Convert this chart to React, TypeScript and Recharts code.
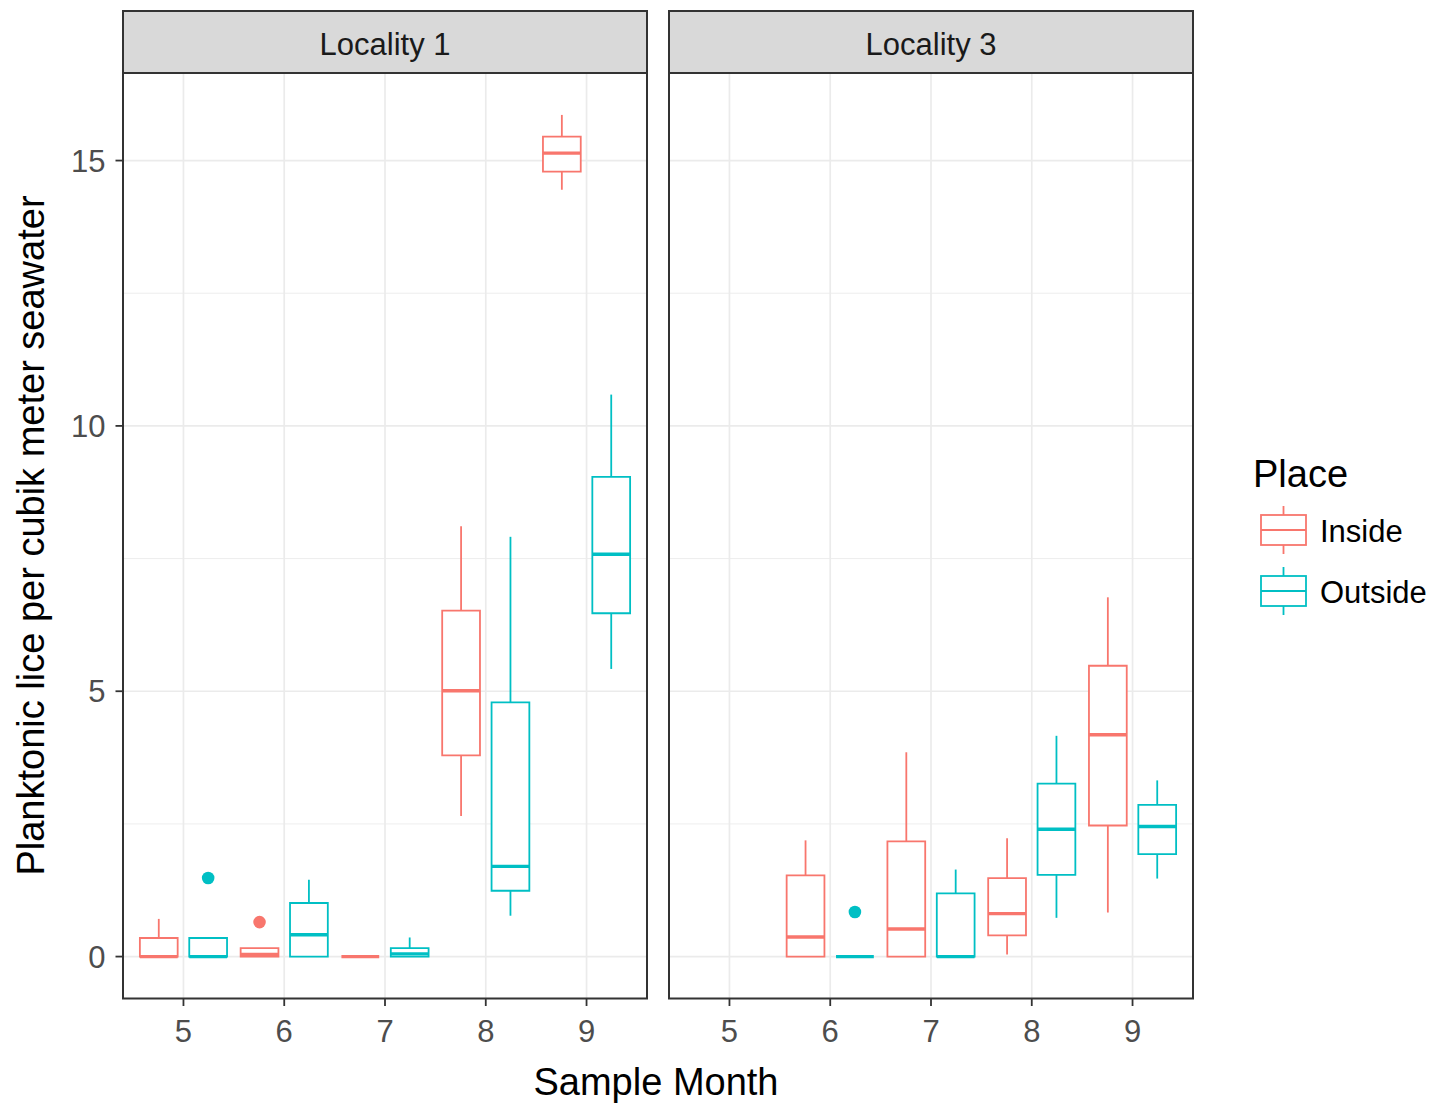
import React from 'react';
import {
  ComposedChart,
  XAxis,
  YAxis,
  Scatter,
  ReferenceArea,
  ReferenceLine,
} from 'recharts';

// ---------- data ----------
const months = ['5', '6', '7', '8', '9'];
const places = ['Inside', 'Outside'];
const localities = ['Locality 1', 'Locality 3'];

// [lower whisker, q1, median, q3, upper whisker]
type Stat = [number, number, number, number, number] | null;

const loc1Inside: Stat[] = [
  [0, 0, 0, 0.35, 0.71],
  [0, 0, 0.04, 0.16, 0.16],
  [0, 0, 0, 0, 0],
  [2.65, 3.79, 5.01, 6.52, 8.11],
  [14.45, 14.79, 15.14, 15.45, 15.86],
];
const loc1Outside: Stat[] = [
  [0, 0, 0, 0.35, 0.35],
  [0, 0, 0.41, 1.01, 1.45],
  [0, 0, 0.05, 0.16, 0.36],
  [0.77, 1.24, 1.7, 4.79, 7.91],
  [5.42, 6.47, 7.58, 9.04, 10.59],
];
const loc3Inside: Stat[] = [
  null,
  [0, 0, 0.37, 1.53, 2.19],
  [0, 0, 0.52, 2.17, 3.85],
  [0.04, 0.4, 0.81, 1.48, 2.23],
  [0.83, 2.47, 4.18, 5.48, 6.77],
];
const loc3Outside: Stat[] = [
  null,
  [0, 0, 0, 0, 0],
  [0, 0, 0, 1.19, 1.64],
  [0.73, 1.54, 2.4, 3.26, 4.16],
  [1.47, 1.93, 2.45, 2.86, 3.32],
];

const loc1InsideOutliers = [{ month: '6', value: 0.65 }];
const loc1OutsideOutliers = [{ month: '5', value: 1.48 }];
const loc3InsideOutliers: { month: string; value: number }[] = [];
const loc3OutsideOutliers = [{ month: '6', value: 0.84 }];

const yTicks = [0, 5, 10, 15];
const yMinor = [2.5, 7.5, 12.5];

// ---------- styling ----------
const COLORS = { Inside: '#F8766D', Outside: '#00BFC4' };
const FONT = '"Liberation Sans", Arial, Helvetica, sans-serif';
const SMALL = 31;
const LARGE = 38;
const Y_DOMAIN: [number, number] = [-0.79, 16.65];
const X_DOMAIN: [number, number] = [0.4, 5.6];
const DODGE = 0.245;
const BOX_W = 0.375;
const GRID = '#EBEBEB';
const DARK = '#333333';
const LW = 1.8;

const monthIndex = (m: string) => months.indexOf(m) + 1;

function buildBoxes(stats: Stat[], color: string, offset: number, key: string) {
  const areas: React.ReactNode[] = [];
  const lines: React.ReactNode[] = [];
  stats.forEach((s, i) => {
    if (!s) return;
    const [lo, q1, med, q3, hi] = s;
    const cx = i + 1 + offset;
    const x1 = cx - BOX_W / 2;
    const x2 = cx + BOX_W / 2;
    if (hi > q3) {
      lines.push(
        <ReferenceLine
          key={`${key}-hi-${i}`}
          segment={[{ x: cx, y: q3 }, { x: cx, y: hi }]}
          stroke={color}
          strokeWidth={LW}
          ifOverflow="visible"
          zIndex={20}
        />
      );
    }
    if (lo < q1) {
      lines.push(
        <ReferenceLine
          key={`${key}-lo-${i}`}
          segment={[{ x: cx, y: lo }, { x: cx, y: q1 }]}
          stroke={color}
          strokeWidth={LW}
          ifOverflow="visible"
          zIndex={20}
        />
      );
    }
    if (q3 > q1) {
      areas.push(
        <ReferenceArea
          key={`${key}-box-${i}`}
          x1={x1}
          x2={x2}
          y1={q1}
          y2={q3}
          fill="#ffffff"
          fillOpacity={1}
          stroke={color}
          strokeWidth={LW}
          ifOverflow="visible"
          zIndex={10}
        />
      );
    }
    lines.push(
      <ReferenceLine
        key={`${key}-med-${i}`}
        segment={[{ x: x1, y: med }, { x: x2, y: med }]}
        stroke={color}
        strokeWidth={3.4}
        ifOverflow="visible"
        zIndex={25}
      />
    );
  });
  return { areas, lines };
}

const dot = (color: string) => (p: any) =>
  <circle cx={p.cx} cy={p.cy} r={6.3} fill={color} />;

type PanelProps = {
  inside: Stat[];
  outside: Stat[];
  insideOut: { month: string; value: number }[];
  outsideOut: { month: string; value: number }[];
  showY: boolean;
  left: number;
  width: number;
  margin: { top: number; right: number; bottom: number; left: number };
  id: string;
};

function Panel({ inside, outside, insideOut, outsideOut, showY, left, width, margin, id }: PanelProps) {
  const a = buildBoxes(inside, COLORS.Inside, -DODGE, `${id}-in`);
  const b = buildBoxes(outside, COLORS.Outside, DODGE, `${id}-out`);
  const inPts = insideOut.map((o) => ({ x: monthIndex(o.month) - DODGE, y: o.value }));
  const outPts = outsideOut.map((o) => ({ x: monthIndex(o.month) + DODGE, y: o.value }));
  const tickStyle = { fill: '#4D4D4D', fontSize: SMALL, fontFamily: FONT };
  return (
    <div style={{ position: 'absolute', left, top: 0 }}>
      <ComposedChart width={width} height={1104} margin={margin}>
        <XAxis
          type="number"
          dataKey="x"
          domain={X_DOMAIN}
          ticks={[1, 2, 3, 4, 5]}
          tickFormatter={(v: number) => months[v - 1]}
          allowDataOverflow
          axisLine={false}
          tickLine={{ stroke: DARK, strokeWidth: LW }}
          tickSize={7.5}
          tickMargin={14}
          tick={tickStyle}
          height={60}
          interval={0}
        />
        <YAxis
          type="number"
          dataKey="y"
          domain={Y_DOMAIN}
          ticks={yTicks}
          allowDataOverflow
          hide={!showY}
          axisLine={false}
          tickLine={{ stroke: DARK, strokeWidth: LW }}
          tickSize={7.5}
          tickMargin={10}
          tick={tickStyle}
          width={60}
          interval={0}
        />
        {yMinor.map((v) => (
          <ReferenceLine key={`min-${v}`} y={v} stroke={GRID} strokeWidth={0.9} ifOverflow="visible" zIndex={1} />
        ))}
        {yTicks.map((v) => (
          <ReferenceLine key={`maj-${v}`} y={v} stroke={GRID} strokeWidth={1.7} ifOverflow="visible" zIndex={2} />
        ))}
        {months.map((m, i) => (
          <ReferenceLine key={`vx-${m}`} x={i + 1} stroke={GRID} strokeWidth={1.7} ifOverflow="visible" zIndex={2} />
        ))}
        {a.areas}
        {b.areas}
        {a.lines}
        {b.lines}
        <Scatter
          name="Inside outliers"
          data={inPts}
          dataKey="y"
          shape={dot(COLORS.Inside)}
          isAnimationActive={false}
          zIndex={30}
        />
        <Scatter
          name="Outside outliers"
          data={outPts}
          dataKey="y"
          shape={dot(COLORS.Outside)}
          isAnimationActive={false}
          zIndex={30}
        />
        <ReferenceArea
          x1={X_DOMAIN[0]}
          x2={X_DOMAIN[1]}
          y1={Y_DOMAIN[0]}
          y2={Y_DOMAIN[1]}
          fill="none"
          fillOpacity={0}
          stroke={DARK}
          strokeWidth={2}
          ifOverflow="visible"
          zIndex={40}
        />
      </ComposedChart>
    </div>
  );
}

function Strip({ left, label }: { left: number; label: string }) {
  return (
    <div
      style={{
        position: 'absolute',
        left,
        top: 10,
        width: 526,
        height: 64,
        boxSizing: 'border-box',
        border: `2px solid ${DARK}`,
        background: '#D9D9D9',
        display: 'flex',
        alignItems: 'center',
        justifyContent: 'center',
        fontFamily: FONT,
        fontSize: SMALL,
        color: '#1A1A1A',
        paddingTop: 5,
      }}
    >
      {label}
    </div>
  );
}

function LegendKey({ cy, color }: { cy: number; color: string }) {
  const cx = 1283.5;
  return (
    <g stroke={color} strokeWidth={LW} fill="#fff">
      <line x1={cx} x2={cx} y1={cy - 24} y2={cy - 15} />
      <line x1={cx} x2={cx} y1={cy + 15} y2={cy + 24} />
      <rect x={cx - 22.5} y={cy - 15} width={45} height={30} />
      <line x1={cx - 22.5} x2={cx + 22.5} y1={cy} y2={cy} />
    </g>
  );
}

export default function App() {
  return (
    <div style={{ position: 'absolute', left: 0, top: 0, width: 1445, height: 1104, background: '#fff' }}>
      <Panel
        id="p1"
        inside={loc1Inside}
        outside={loc1Outside}
        insideOut={loc1InsideOutliers}
        outsideOut={loc1OutsideOutliers}
        showY
        left={0}
        width={660}
        margin={{ top: 73, right: 13, bottom: 45.5, left: 63 }}
      />
      <Panel
        id="p3"
        inside={loc3Inside}
        outside={loc3Outside}
        insideOut={loc3InsideOutliers}
        outsideOut={loc3OutsideOutliers}
        showY={false}
        left={660}
        width={560}
        margin={{ top: 73, right: 27, bottom: 45.5, left: 9 }}
      />
      <Strip left={122} label={localities[0]} />
      <Strip left={668} label={localities[1]} />
      <svg
        width={1445}
        height={1104}
        style={{ position: 'absolute', left: 0, top: 0, pointerEvents: 'none' }}
        fontFamily={FONT}
      >
        <text
          transform="translate(43.5, 535.5) rotate(-90)"
          textAnchor="middle"
          fontSize={LARGE}
          fill="#000"
        >
          Planktonic lice per cubik meter seawater
        </text>
        <text x={656} y={1095} textAnchor="middle" fontSize={LARGE} fill="#000">
          Sample Month
        </text>
        <text x={1253} y={487} fontSize={LARGE} fill="#000">
          Place
        </text>
        <LegendKey cy={530} color={COLORS.Inside} />
        <LegendKey cy={591} color={COLORS.Outside} />
        <text x={1320} y={542} fontSize={SMALL} fill="#000">
          {places[0]}
        </text>
        <text x={1320} y={603} fontSize={SMALL} fill="#000">
          {places[1]}
        </text>
      </svg>
    </div>
  );
}
